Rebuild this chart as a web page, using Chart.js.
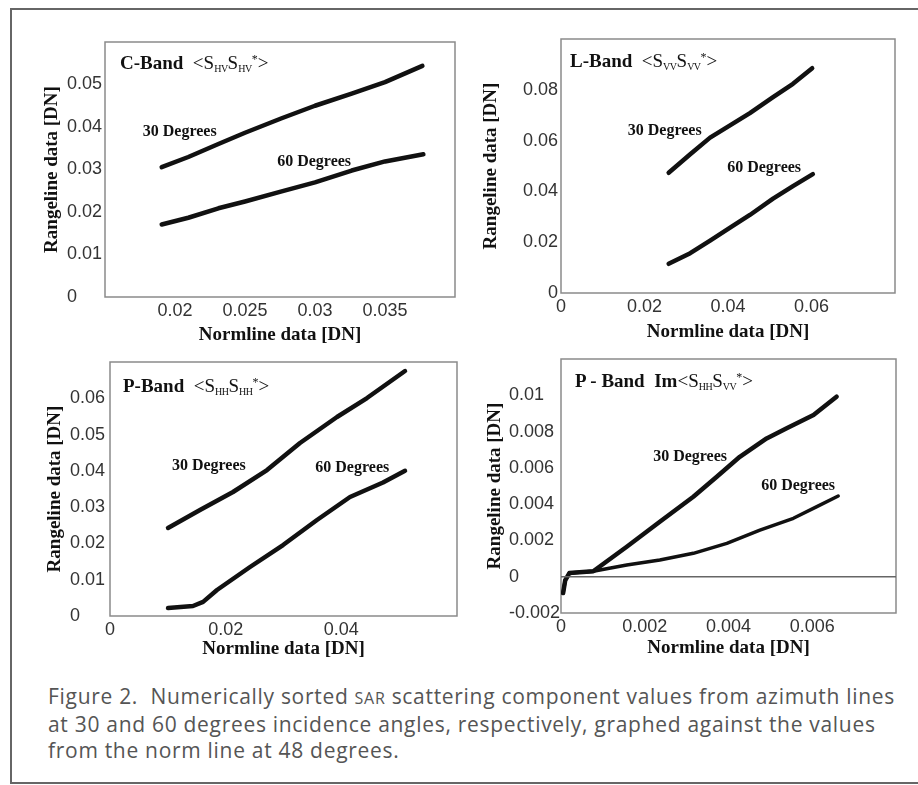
<!DOCTYPE html>
<html>
<head>
<meta charset="utf-8">
<script src="https://cdn.jsdelivr.net/npm/chart.js@4/dist/chart.umd.min.js"></script>
<style>
  body { margin: 0; width: 918px; height: 785px; position: relative; overflow: hidden; background: #fff; }
  .frame { position: absolute; left: 10px; top: 8px; width: 930px; height: 772px; border: 2px solid #666; }
  canvas { position: absolute; }
  .ptitle { position: absolute; font-family: 'Liberation Serif', serif; font-size: 19px; line-height: 20px; color: #111; white-space: nowrap; }
  .ptitle b { font-weight: bold; }
  .ptitle sub { font-size: 10px; vertical-align: -3px; letter-spacing: -0.5px; }
  .ptitle sup { font-size: 12px; vertical-align: 6px; }
  .caption { position: absolute; left: 48px; top: 683px; font-family: 'Open Sans', sans-serif; font-size: 21px; line-height: 26px; letter-spacing: 0.7px; color: #555; white-space: nowrap; }
  .sc { font-size: 16px; }
</style>
</head>
<body>
<div class="frame"></div>

<canvas id="cBand"></canvas>
<canvas id="lBand"></canvas>
<canvas id="pBandHH"></canvas>
<canvas id="pBandIm"></canvas>

<div class="ptitle" style="left:120px; top:49px;"><b>C-Band</b>&nbsp;&nbsp;&lt;S<sub>HV</sub>S<sub>HV</sub><sup>*</sup>&gt;</div>
<div class="ptitle" style="left:570px; top:47px;"><b>L-Band</b>&nbsp;&nbsp;&lt;S<sub>VV</sub>S<sub>VV</sub><sup>*</sup>&gt;</div>
<div class="ptitle" style="left:123px; top:372px;"><b>P-Band</b>&nbsp;&nbsp;&lt;S<sub>HH</sub>S<sub>HH</sub><sup>*</sup>&gt;</div>
<div class="ptitle" style="left:575px; top:367px;"><b>P - Band&nbsp;&nbsp;Im</b>&lt;S<sub>HH</sub>S<sub>VV</sub><sup>*</sup>&gt;</div>

<div class="caption">Figure 2.&nbsp; Numerically sorted <span class="sc">SAR</span> scattering component values from azimuth lines<br>at 30 and 60 degrees incidence angles, respectively, graphed against the values<br>from the norm line at 48 degrees.</div>

<script>
// C-Band <S_HV S_HV*>
const cBandX30 = [0.01905, 0.02095, 0.0231, 0.0250, 0.02762, 0.0300, 0.03262, 0.0350, 0.03767];
const cBandY30 = [0.03056, 0.03294, 0.0360, 0.03865, 0.04206, 0.0450, 0.04786, 0.05056, 0.05437];
const cBandX60 = [0.01905, 0.02095, 0.0231, 0.0250, 0.02762, 0.0300, 0.03262, 0.0350, 0.03774];
const cBandY60 = [0.01706, 0.01865, 0.02087, 0.02246, 0.02484, 0.02698, 0.02976, 0.0319, 0.03357];
const cBandXTicks = [0.02, 0.025, 0.03, 0.035];
const cBandYTicks = [0, 0.01, 0.02, 0.03, 0.04, 0.05];

// L-Band <S_VV S_VV*>
const lBandX30 = [0.02579, 0.03095, 0.03571, 0.04087, 0.04524, 0.05079, 0.05556, 0.06016];
const lBandY30 = [0.04732, 0.05464, 0.06118, 0.06641, 0.07085, 0.07712, 0.08235, 0.0885];
const lBandX60 = [0.02579, 0.03095, 0.03571, 0.04087, 0.04524, 0.05079, 0.05556, 0.06032];
const lBandY60 = [0.0115, 0.01569, 0.02065, 0.02614, 0.03072, 0.03712, 0.04209, 0.0468];
const lBandXTicks = [0, 0.02, 0.04, 0.06];
const lBandYTicks = [0, 0.02, 0.04, 0.06, 0.08];

// P-Band <S_HH S_HH*>
const pHHX30 = [0.01003, 0.01556, 0.02127, 0.02715, 0.03285, 0.03925, 0.04444, 0.05101];
const pHHY30 = [0.02425, 0.02921, 0.03417, 0.04023, 0.04767, 0.05484, 0.06007, 0.06751];
const pHHX60 = [0.01003, 0.01435, 0.0161, 0.0185, 0.02421, 0.02992, 0.03579, 0.0415, 0.04721, 0.05101];
const pHHY60 = [0.0022, 0.00276, 0.0039, 0.00716, 0.0135, 0.01956, 0.02645, 0.03279, 0.0368, 0.0400];
const pHHXTicks = [0, 0.02, 0.04];
const pHHYTicks = [0, 0.01, 0.02, 0.03, 0.04, 0.05, 0.06];

// P-Band Im<S_HH S_VV*>
const pImX30 = [0.00005, 0.0001, 0.0002, 0.00077, 0.00157, 0.00236, 0.00316, 0.00372, 0.00427, 0.00491, 0.00539, 0.00603, 0.00658];
const pImY30 = [-0.0009, -0.0002, 0.0002, 0.0003, 0.00165, 0.00303, 0.00441, 0.00551, 0.00661, 0.00762, 0.00818, 0.00891, 0.00992];
const pImX60 = [0.00005, 0.0001, 0.0002, 0.00077, 0.00157, 0.00236, 0.00316, 0.00396, 0.00475, 0.00555, 0.00611, 0.00662];
const pImY60 = [-0.0009, -0.0002, 0.0002, 0.0003, 0.00065, 0.00092, 0.00129, 0.00184, 0.00257, 0.00322, 0.00386, 0.00445];
const pImZeroX = [0, 0.008];
const pImZeroY = [0, 0];
const pImXTicks = [0, 0.002, 0.004, 0.006];
const pImYTicks = [-0.002, 0, 0.002, 0.004, 0.006, 0.008, 0.01];

const PAD = 6;
const titleFont = { family: 'Liberation Serif', size: 19, weight: 'bold' };
const tickFont = { family: 'Liberation Sans', size: 18 };
const HALF_TITLE = 19 * 1.2 / 2;

function points(xs, ys) {
    return xs.map((x, i) => ({ x: x, y: ys[i] }));
}

function curve(xs, ys, width, color) {
    return {
        data: points(xs, ys),
        showLine: true,
        borderColor: color,
        borderWidth: width,
        pointRadius: 0,
        tension: 0,
        borderJoinStyle: 'round',
        borderCapStyle: 'round',
    };
}

// yLeft: left edge of the y scale (where 'far' labels start); yTitleX: centre of the rotated title
function makePanel(id, p) {
    const canvas = document.getElementById(id);
    const canvasLeft = Math.min(p.yLeft, p.yTitleX - 14);
    const padLeft = p.yLeft - canvasLeft;
    const yw = p.box.L - p.yLeft;
    canvas.width = p.box.R - canvasLeft + PAD;
    canvas.height = p.box.B - p.box.T + p.xh + PAD;
    canvas.style.left = canvasLeft + 'px';
    canvas.style.top = (p.box.T - PAD) + 'px';

    const frame = {
        id: 'frame',
        beforeDatasetsDraw(chart) {
            const { ctx, chartArea: a } = chart;
            ctx.save();
            ctx.strokeStyle = '#8a8a8a';
            ctx.lineWidth = 1.5;
            ctx.strokeRect(a.left, a.top, a.right - a.left, a.bottom - a.top);
            ctx.restore();
        },
    };

    const notes = {
        id: 'notes',
        afterDatasetsDraw(chart) {
            const { ctx, scales: { x, y } } = chart;
            ctx.save();
            ctx.font = 'bold 16px "Liberation Serif"';
            ctx.fillStyle = '#111';
            ctx.textAlign = 'left';
            ctx.textBaseline = 'middle';
            p.notes.forEach(n => ctx.fillText(n.text, x.getPixelForValue(n.x), y.getPixelForValue(n.y)));
            ctx.restore();
        },
    };

    new Chart(canvas.getContext('2d'), {
        type: 'scatter',
        data: { datasets: p.datasets },
        options: {
            responsive: false,
            animation: false,
            layout: { padding: { top: PAD, right: PAD, left: padLeft, bottom: 0 } },
            plugins: { legend: { display: false }, tooltip: { enabled: false } },
            scales: {
                x: {
                    type: 'linear',
                    min: p.xMin,
                    max: p.xMax,
                    grid: { display: false, drawTicks: false },
                    border: { display: false },
                    afterBuildTicks: s => { s.ticks = p.xTicks.map(v => ({ value: v })); },
                    afterFit: s => { s.height = p.xh; s.paddingLeft = 0; s.paddingRight = 0; },
                    ticks: {
                        autoSkip: false,
                        maxRotation: 0,
                        padding: 3,
                        color: '#333',
                        font: tickFont,
                        callback: v => String(v),
                    },
                    title: { display: true, text: 'Normline data [DN]', color: '#111', font: titleFont },
                },
                y: {
                    type: 'linear',
                    min: p.yMin,
                    max: p.yMax,
                    grid: { display: false, drawTicks: false },
                    border: { display: false },
                    afterBuildTicks: s => { s.ticks = p.yTicks.map(v => ({ value: v })); },
                    afterFit: s => { s.width = yw; s.paddingTop = 0; s.paddingBottom = 0; },
                    ticks: {
                        autoSkip: false,
                        padding: 3,
                        crossAlign: p.yAlign,
                        color: '#333',
                        font: tickFont,
                        callback: v => String(v),
                    },
                    title: {
                        display: true,
                        text: 'Rangeline data [DN]',
                        color: '#111',
                        font: titleFont,
                        padding: { top: p.yTitleX - p.yLeft - HALF_TITLE, bottom: 4 },
                    },
                },
            },
        },
        plugins: [frame, notes],
    });
}

makePanel('cBand', {
    box: { L: 105, T: 42, R: 455, B: 297 }, yLeft: 67, yTitleX: 52, xh: 53,
    xMin: 0.015, xMax: 0.04, yMin: 0, yMax: 0.06,
    xTicks: cBandXTicks, yTicks: cBandYTicks, yAlign: 'far',
    datasets: [
        curve(cBandX30, cBandY30, 4.5, '#111'),
        curve(cBandX60, cBandY60, 4.5, '#111'),
    ],
    notes: [
        { text: '30 Degrees', x: 0.0177, y: 0.0388 },
        { text: '60 Degrees', x: 0.0273, y: 0.0318 },
    ],
});

makePanel('lBand', {
    box: { L: 561, T: 39, R: 895, B: 293 }, yLeft: 476, yTitleX: 491, xh: 54,
    xMin: 0, xMax: 0.08, yMin: 0, yMax: 0.1,
    xTicks: lBandXTicks, yTicks: lBandYTicks, yAlign: 'near',
    datasets: [
        curve(lBandX30, lBandY30, 4.5, '#111'),
        curve(lBandX60, lBandY60, 4.5, '#111'),
    ],
    notes: [
        { text: '30 Degrees', x: 0.0160, y: 0.0638 },
        { text: '60 Degrees', x: 0.0398, y: 0.0492 },
    ],
});

makePanel('pBandHH', {
    box: { L: 110, T: 362, R: 457, B: 616 }, yLeft: 70, yTitleX: 55, xh: 48,
    xMin: 0, xMax: 0.06, yMin: 0, yMax: 0.07,
    xTicks: pHHXTicks, yTicks: pHHYTicks, yAlign: 'far',
    datasets: [
        curve(pHHX30, pHHY30, 4.5, '#111'),
        curve(pHHX60, pHHY60, 4.5, '#111'),
    ],
    notes: [
        { text: '30 Degrees', x: 0.0107, y: 0.0413 },
        { text: '60 Degrees', x: 0.0355, y: 0.0408 },
    ],
});

makePanel('pBandIm', {
    box: { L: 561, T: 359, R: 896, B: 613 }, yLeft: 509, yTitleX: 495, xh: 50,
    xMin: 0, xMax: 0.008, yMin: -0.002, yMax: 0.012,
    xTicks: pImXTicks, yTicks: pImYTicks, yAlign: 'far',
    datasets: [
        curve(pImZeroX, pImZeroY, 1.5, '#666'),
        curve(pImX30, pImY30, 4.5, '#111'),
        curve(pImX60, pImY60, 3.5, '#111'),
    ],
    notes: [
        { text: '30 Degrees', x: 0.0022, y: 0.0066 },
        { text: '60 Degrees', x: 0.00478, y: 0.0050 },
    ],
});
</script>
</body>
</html>
